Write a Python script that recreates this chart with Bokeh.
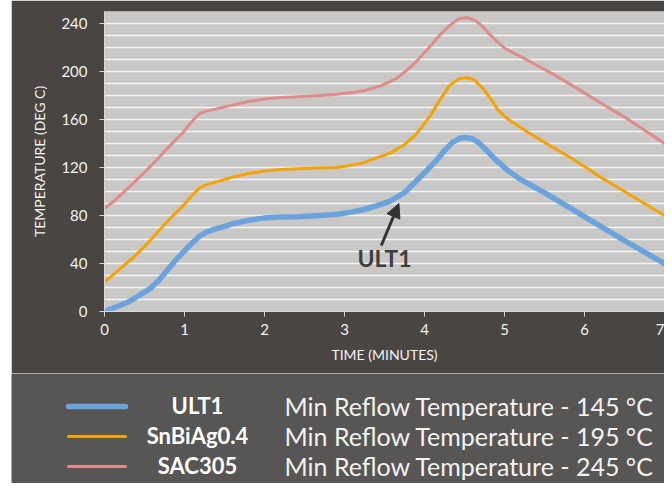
from bokeh.plotting import figure
from bokeh.layouts import column
from bokeh.models import Range1d, FixedTicker, Arrow, NormalHead
from bokeh.core.properties import value
from bokeh.embed import file_html
from bokeh.resources import INLINE

# ---- data ----
ult1_x = [0, 0.15, 0.3, 0.45, 0.57, 0.68, 0.78, 0.88, 0.98, 1.08, 1.19, 1.27, 1.35, 1.5, 1.6, 1.8, 2.0, 2.2, 2.42, 2.7, 2.91, 3.1, 3.24, 3.4, 3.57, 3.75, 3.9, 4.05, 4.15, 4.25, 4.35, 4.45, 4.52, 4.6, 4.68, 4.78, 4.88, 4.95, 5.05, 5.2, 5.5, 6.0, 6.5, 7.0]
ult1_y = [0, 4, 8, 14, 19, 26, 34, 42, 49, 56, 63, 66, 68, 71, 73, 76, 78, 78.7, 79, 80, 81, 83, 85, 88, 92, 99, 109, 119, 126, 134, 141, 144.5, 145, 144, 140.5, 134, 127, 123, 117, 110, 99, 79, 59, 40]

snbi_x = [0, 0.1, 0.2, 0.36, 0.5, 0.65, 0.8, 0.98, 1.1, 1.19, 1.27, 1.35, 1.5, 1.6, 1.8, 2.0, 2.2, 2.42, 2.7, 2.91, 3.1, 3.24, 3.4, 3.57, 3.75, 3.9, 4.06, 4.2, 4.31, 4.42, 4.52, 4.62, 4.73, 4.83, 4.93, 5.05, 5.3, 5.6, 5.88, 6.2, 6.5, 7.0]
snbi_y = [25, 30, 36, 45, 54, 65, 76, 88, 97, 103, 105.5, 107, 110, 112, 115, 117, 118.3, 119, 119.5, 120, 122, 124, 128, 132, 139, 148, 162, 177, 188, 193.5, 195, 193, 186, 177, 167, 160, 149, 137, 126, 112, 100, 80]

sac_x = [0, 0.1, 0.2, 0.36, 0.5, 0.65, 0.8, 0.98, 1.1, 1.19, 1.27, 1.35, 1.5, 1.6, 1.8, 2.0, 2.2, 2.42, 2.7, 2.91, 3.1, 3.24, 3.45, 3.65, 3.85, 4.06, 4.2, 4.31, 4.42, 4.52, 4.62, 4.72, 4.8, 4.89, 5.01, 5.3, 5.6, 5.88, 6.2, 6.5, 7.0]
sac_y = [86, 91, 97, 107, 116, 126, 137, 149, 159, 165, 167, 168, 170.5, 172, 175, 177, 178.3, 179, 180, 181, 182.5, 184, 188, 194, 205, 220, 231, 238, 243.5, 245, 243, 238, 232, 226, 219, 209, 198, 187, 174, 162, 140]

series_names = ["ULT1", "SnBiAg0.4", "SAC305"]
series_desc = ["Min Reflow Temperature - 145 \u00b0C",
               "Min Reflow Temperature - 195 \u00b0C",
               "Min Reflow Temperature - 245 \u00b0C"]
series_colors = ["#6CA3DC", "#F5A300", "#DF8C8C"]
series_widths = [5.5, 3, 3]

x_ticks = [0, 1, 2, 3, 4, 5, 6, 7]
y_ticks = [0, 40, 80, 120, 160, 200, 240]
grid_lines = list(range(0, 251, 10))

annot_text = "ULT1"
arrow_tail = (3.46, 55)
arrow_tip = (3.68, 90)
annot_pos = (3.5, 45)

DARK = "#494542"
LEG_BG = "#585654"
PLOT_BG = "#C9C8C6"
FONT = "Lato"
LEFT_GAP = 11
W = 664 - LEFT_GAP

p = figure(width=W, height=373, output_backend="svg", toolbar_location=None,
           x_range=Range1d(0, 7), y_range=Range1d(0, 250),
           min_border_left=104 - LEFT_GAP, min_border_top=11, min_border_right=0,
           min_border_bottom=62, frame_align=False)
p.border_fill_color = DARK
p.background_fill_color = PLOT_BG
p.outline_line_color = None

p.xgrid.visible = False
p.ygrid.ticker = FixedTicker(ticks=grid_lines)
p.ygrid.grid_line_color = "#F4F4F4"
p.ygrid.grid_line_width = 1.5

for ax in (p.xaxis[0], p.yaxis[0]):
    ax.axis_line_color = "#D9D9D9"
    ax.major_tick_line_color = "#D9D9D9"
    ax.major_tick_out = 5
    ax.major_tick_in = 0
    ax.minor_tick_line_color = None
    ax.major_label_text_color = "#F2F2F2"
    ax.major_label_text_font = FONT
    ax.major_label_text_font_size = "15px"
    ax.axis_label_text_color = "#F2F2F2"
    ax.axis_label_text_font = FONT
    ax.axis_label_text_font_size = "14px"
    ax.axis_label_text_font_style = "normal"

p.xaxis.ticker = FixedTicker(ticks=x_ticks)
p.yaxis.ticker = FixedTicker(ticks=y_ticks)
p.xaxis.axis_label = "TIME (MINUTES)"
p.yaxis.axis_label = "TEMPERATURE (DEG C)"
p.xaxis.major_label_standoff = 7
p.yaxis.major_label_standoff = 12
p.xaxis.axis_label_standoff = 8
p.yaxis.axis_label_standoff = 10

xs = [ult1_x, snbi_x, sac_x]
ys = [ult1_y, snbi_y, sac_y]
for i in (2, 1, 0):
    p.line(xs[i], ys[i], line_color=series_colors[i], line_width=series_widths[i],
           line_join="round", line_cap="round")

p.add_layout(Arrow(end=NormalHead(size=14, fill_color="#333333", line_color="#333333"),
                   x_start=arrow_tail[0], y_start=arrow_tail[1],
                   x_end=arrow_tip[0], y_end=arrow_tip[1],
                   line_color="#333333", line_width=3))
p.text(x=[annot_pos[0]], y=[annot_pos[1]], text=[annot_text],
       text_font=value(FONT), text_font_size=value("23px"), text_font_style="bold",
       text_color="#3E3E3E", text_align="center", text_baseline="middle")

# ---- legend panel ----
L = figure(width=W, height=110, output_backend="svg", toolbar_location=None,
           x_range=Range1d(LEFT_GAP, 664), y_range=Range1d(110, 0), min_border=0,
           frame_align=False)
L.border_fill_color = LEG_BG
L.background_fill_color = LEG_BG
L.outline_line_color = None
L.axis.visible = False
L.grid.visible = False

row_y = [32, 62, 92]
for i in range(3):
    L.line([68, 125], [row_y[i] + 1, row_y[i] + 1], line_color=series_colors[i],
           line_width=series_widths[i], line_cap="round")
L.text(x=[197] * 3, y=row_y, text=series_names, text_font=value(FONT),
       text_font_size=value("22px"), text_font_style="bold", text_color="#FFFFFF",
       text_align="center", text_baseline="middle")
L.text(x=[284] * 3, y=row_y, text=series_desc, text_font=value(FONT),
       text_font_size=value("25px"), text_color="#F2F2F2",
       text_align="left", text_baseline="middle")

layout = column(p, L, spacing=0, margin=(0, 0, 0, LEFT_GAP))
open("out.html", "w").write(file_html(layout, INLINE))
